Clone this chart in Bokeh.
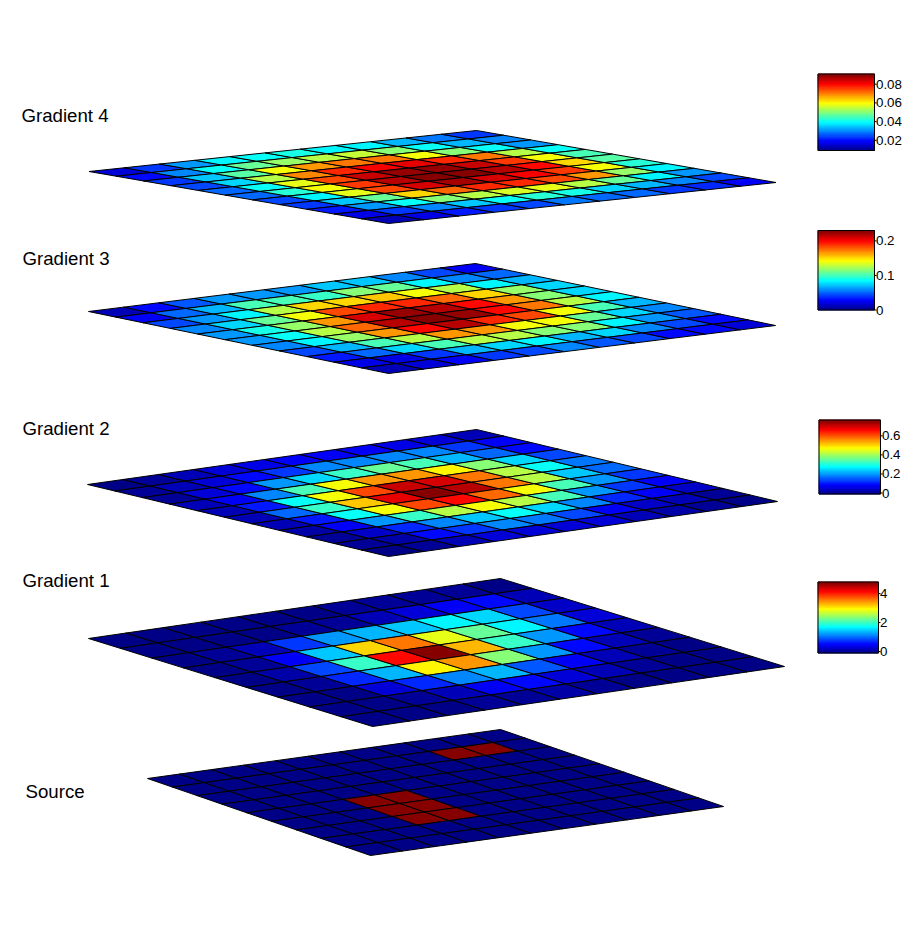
import numpy as np
from bokeh.plotting import figure, ColumnDataSource
from bokeh.models import LinearColorMapper
from bokeh.transform import transform
from bokeh.core.properties import value
from bokeh.embed import file_html
from bokeh.resources import INLINE

# Colour level (0-100 along the colour axis) of each cell; rows = v, columns = u
source_levels = [
    [0,0,0,0,0,0,0,0,0,0,0],
    [0,0,0,0,0,0,0,0,100,100,0],
    [0,0,0,0,0,0,0,0,0,0,0],
    [0,0,0,0,0,0,0,0,0,0,0],
    [0,0,0,100,100,0,0,0,0,0,0],
    [0,0,0,100,100,0,0,0,0,0,0],
    [0,0,0,100,100,0,0,0,0,0,0],
    [0,0,0,0,0,0,0,0,0,0,0],
    [0,0,0,0,0,0,0,0,0,0,0],
]
gradient_1_levels = [
    [0,0,0,0,1,1,2,3,3,2,1],
    [0,0,0,1,2,3,5,9,12,14,6],
    [0,2,6,18,28,31,32,36,33,20,7],
    [0,3,11,32,66,76,60,48,37,24,8],
    [0,4,19,43,87,100,70,43,27,13,5],
    [0,3,17,31,63,72,50,27,14,5,2],
    [0,1,8,17,25,31,21,12,5,2,1],
    [0,0,3,6,11,14,9,5,3,1,0],
    [0,0,0,2,3,4,3,1,1,0,0],
]
gradient_2_levels = [
    [1,3,5,8,10,12,12,11,10,8,5],
    [2,5,9,13,18,25,26,26,25,18,12],
    [3,8,14,27,34,43,47,44,31,22,14],
    [5,12,26,45,62,72,72,63,50,34,20],
    [6,15,39,62,81,93,92,76,56,38,24],
    [6,22,43,68,90,100,95,75,55,32,22],
    [6,15,38,62,80,87,78,62,44,28,18],
    [4,11,27,43,56,62,56,44,27,18,12],
    [3,7,17,26,32,38,33,25,17,12,7],
    [2,4,14,18,25,24,20,12,7,5,3],
    [1,3,5,8,9,9,8,6,4,2,1],
]
gradient_3_levels = [
    [6,13,21,28,28,28,32,32,25,19,12],
    [12,22,31,44,44,43,50,47,36,25,22],
    [20,28,37,56,67,67,68,62,55,36,31],
    [25,33,47,62,81,83,83,78,67,52,33],
    [27,40,53,72,92,97,95,87,72,50,33],
    [27,38,56,78,94,100,98,87,76,56,37],
    [26,37,53,72,87,94,83,80,62,44,31],
    [20,31,44,56,72,72,62,62,47,33,25],
    [15,22,33,44,56,56,50,50,37,28,21],
    [10,10,18,31,34,37,31,33,25,20,14],
    [5,8,12,18,20,25,21,19,14,13,8],
]
gradient_4_levels = [
    [8,18,28,36,38,40,37,36,30,24,18],
    [14,26,38,48,52,56,57,50,38,30,26],
    [18,32,46,62,72,76,76,62,50,38,28],
    [20,34,56,74,84,88,90,84,75,56,38],
    [22,38,60,80,93,97,98,93,82,62,44],
    [22,42,62,82,94,100,100,95,86,66,46],
    [20,36,60,80,92,96,92,88,82,62,42],
    [18,32,48,66,78,84,84,80,72,52,36],
    [15,27,38,50,56,58,60,56,48,36,28],
    [10,18,26,32,38,42,40,34,30,26,20],
    [5,10,15,18,20,24,22,22,18,16,12],
]
layer_names = ["Source", "Gradient 1", "Gradient 2", "Gradient 3", "Gradient 4"]
bar_limits = [None, (-0.1, 4.8), (-0.01, 0.766), (0.0, 0.23), (0.0091, 0.0909)]
bar_ticks = [None, [0, 2, 4], [0, 0.2, 0.4, 0.6], [0, 0.1, 0.2], [0.02, 0.04, 0.06, 0.08]]
bar_tick_labels = [None, ["0", "2", "4"], ["0", "0.2", "0.4", "0.6"], ["0", "0.1", "0.2"],
                   ["0.02", "0.04", "0.06", "0.08"]]

# Placement on the page: left corner, top corner, bottom corner of each sheet
sheet_corners = [((147, 778), (500, 729), (370, 855)),
                 ((88, 638), (500, 578), (372, 726)),
                 ((87, 484), (476, 429), (388, 556)),
                 ((88, 311), (475, 263), (388, 373)),
                 ((88.5, 171), (476, 130), (388, 223))]
label_pos = [(25, 791), (22, 580), (22, 428), (22, 258), (21, 115)]
bar_boxes = [None, (817.5, 878, 581.5, 652.5), (818.5, 880, 419.5, 493.5),
             (817.5, 874, 230, 309.5), (817.5, 874, 73.5, 150)]


def jet(n):
    t = (np.arange(n) + 0.5) / n
    r = np.clip(np.minimum(4 * t - 1.5, -4 * t + 4.5), 0, 1)
    g = np.clip(np.minimum(4 * t - 0.5, -4 * t + 3.5), 0, 1)
    b = np.clip(np.minimum(4 * t + 0.5, -4 * t + 2.5), 0, 1)
    return ["#%02x%02x%02x" % (int(a * 255), int(c * 255), int(d * 255)) for a, c, d in zip(r, g, b)]


mapper = LinearColorMapper(palette=jet(64), low=0, high=100)

p = figure(width=902, height=911, x_range=(0, 902), y_range=(911, 0),
           output_backend="svg", toolbar_location=None, min_border=0,
           background_fill_color="white", border_fill_color="white", outline_line_color=None)
p.axis.visible = False
p.grid.visible = False

layers = [source_levels, gradient_1_levels, gradient_2_levels, gradient_3_levels, gradient_4_levels]
for levels, corners in zip(layers, sheet_corners):
    arr = np.array(levels, dtype=float)
    nv, nu = arr.shape
    L, T, B = [np.array(c, dtype=float) for c in corners]
    du, dv = (T - L) / nu, (B - L) / nv
    xs, ys, vals = [], [], []
    for v in range(nv):
        for u in range(nu):
            q = [L + du * a + dv * b for a, b in ((u, v), (u + 1, v), (u + 1, v + 1), (u, v + 1))]
            xs.append([c[0] for c in q])
            ys.append([c[1] for c in q])
            vals.append(arr[v, u])
    p.patches("xs", "ys", source=ColumnDataSource(dict(xs=xs, ys=ys, level=vals)),
              fill_color=transform("level", mapper), line_color="black", line_width=1)

for name, (lx, ly) in zip(layer_names, label_pos):
    p.text([lx], [ly], text=[name], text_font=value("Liberation Sans"), text_font_size="18.67px",
           text_color="black", text_baseline="middle", text_align="left")

for box, lim, ticks, labels in zip(bar_boxes, bar_limits, bar_ticks, bar_tick_labels):
    if box is None:
        continue
    x0, x1, top, bottom = box
    n = 64
    edges = np.linspace(bottom, top, n + 1)
    lev = (np.arange(n) + 0.5) / n * 100
    stripes = ColumnDataSource(dict(left=[x0] * n, right=[x1] * n, top=edges[1:], bottom=edges[:-1], level=lev))
    p.quad(left="left", right="right", top="top", bottom="bottom", source=stripes,
           fill_color=transform("level", mapper), line_color=transform("level", mapper), line_width=1)
    p.quad(left=[x0], right=[x1], top=[top], bottom=[bottom], fill_color=None,
           line_color="black", line_width=1)
    ty = [bottom - (t - lim[0]) / (lim[1] - lim[0]) * (bottom - top) for t in ticks]
    p.segment([x1] * len(ty), ty, [x1 + 2] * len(ty), ty, line_color="black", line_width=1)
    p.text([x1 + 1.5] * len(ty), ty, text=labels, text_font=value("Liberation Sans"),
           text_font_size="13.33px", text_color="black", text_baseline="middle", text_align="left")

open("out.html", "w").write(file_html(p, INLINE))
